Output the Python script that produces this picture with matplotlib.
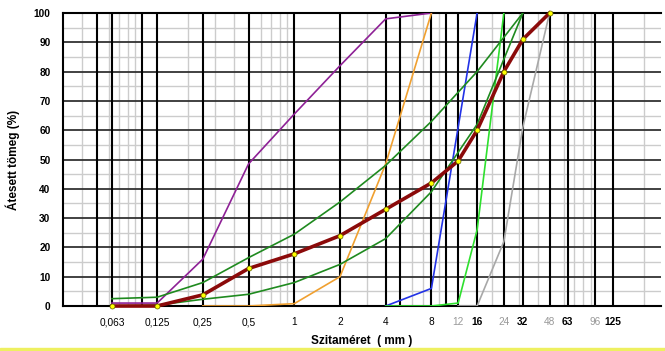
import numpy as np
import matplotlib
matplotlib.use("Agg")
import matplotlib.pyplot as plt
from matplotlib.patches import Rectangle

plt.rcParams['font.family'] = ['Liberation Sans', 'DejaVu Sans']

# Szitasor és tengelyfeliratok
tick_sizes = [0.063, 0.125, 0.25, 0.5, 1, 2, 4, 8, 12, 16, 24, 32, 48, 63, 96, 125]
tick_labels = ['0,063', '0,125', '0,25', '0,5', '1', '2', '4', '8', '12', '16',
               '24', '32', '48', '63', '96', '125']
gray_ticks = ['12', '24', '48', '96']
bold_ticks = ['16', '32', '63', '125']

# Görbék (szemcseméret mm, áthullott %)
purple_x = [0.063, 0.125, 0.25, 0.5, 1, 2, 4, 8]
purple_y = [1, 1, 16, 48.5, 65.5, 82, 98, 100]

orange_x = [0.25, 0.5, 1, 2, 4, 8]
orange_y = [0, 0, 0.8, 10, 48.5, 100]

blue_x = [4, 8, 16]
blue_y = [0, 6, 100]

lgreen_x = [4, 8, 12, 16, 24]
lgreen_y = [0, 0, 1, 26, 100]

gray_x = [12, 16, 24, 32, 48]
gray_y = [0, 0, 22, 61, 100]

upper_x = [0.063, 0.125, 0.25, 0.5, 1, 2, 4, 8, 16, 32]
upper_y = [2.5, 3, 8, 16.5, 24.5, 35.5, 48, 63, 80, 100]

lower_x = [0.063, 0.125, 0.25, 0.5, 1, 2, 4, 8, 16, 32]
lower_y = [0, 0.3, 2.3, 4, 8, 14.2, 23, 39, 62, 100]

mix_x = [0.063, 0.125, 0.25, 0.5, 1, 2, 4, 8, 12, 16, 24, 32, 48]
mix_y = [0, 0, 3.8, 12.8, 17.8, 24, 33, 42, 49.5, 60, 80, 91, 100]

# rácsvonalak
minor_v = [0.04, 0.06, 0.07, 0.08, 0.09, 0.2, 0.3, 0.4, 0.6, 0.7, 0.8, 0.9,
           3, 6, 7, 9, 20, 30, 40, 60, 70, 80, 90, 200]
major_v = [0.05, 0.1, 5, 10]

fig = plt.figure(figsize=(6.65, 3.51), dpi=100)
ax = fig.add_axes([63 / 665, 1 - 306 / 351, 598 / 665, 293 / 351])
ax.set_xscale('log')
ax.set_xlim(0.03, 260)
ax.set_ylim(0, 100)

for v in minor_v:
    ax.axvline(v, color='#cccccc', lw=1.0, zorder=1)
for v in np.arange(5, 100, 10):
    ax.axhline(v, color='#cccccc', lw=1.0, zorder=1)
for v in np.arange(10, 100, 10):
    ax.axhline(v, color='#333333', lw=1.3, zorder=2)
for v in major_v + tick_sizes:
    ax.axvline(v, color='black', lw=1.5, zorder=2)

ax.plot(purple_x, purple_y, color='#8e2196', lw=1.2, zorder=4)
ax.plot(orange_x, orange_y, color='#f0a030', lw=1.2, zorder=4)
ax.plot(blue_x, blue_y, color='#2232e6', lw=1.2, zorder=4)
ax.plot(lgreen_x, lgreen_y, color='#2ee02e', lw=1.2, zorder=4)
ax.plot(gray_x, gray_y, color='#a8a8a8', lw=1.2, zorder=4)
ax.plot(upper_x, upper_y, color='#1f8a1f', lw=1.2, zorder=4)
ax.plot(lower_x, lower_y, color='#1f8a1f', lw=1.2, zorder=4)
ax.plot(mix_x, mix_y, color='#8b0a0a', lw=2.6, zorder=5, clip_on=False,
        marker='o', ms=3.6, mfc='#ffff00', mec='#606000', mew=0.5)

for s in ['left', 'top', 'bottom']:
    ax.spines[s].set_color('black')
    ax.spines[s].set_linewidth(1.5)
ax.spines['right'].set_visible(False)

ax.set_xticks(tick_sizes)
ax.set_xticklabels(tick_labels)
ax.xaxis.set_minor_locator(matplotlib.ticker.NullLocator())
ax.set_yticks(np.arange(0, 101, 10))
ax.tick_params(axis='both', length=0, labelsize=7.3)
ax.tick_params(axis='x', pad=8)
ax.tick_params(axis='y', pad=9)
for lab in ax.get_yticklabels():
    lab.set_fontweight('bold')
for lab in ax.get_xticklabels():
    t = lab.get_text()
    if t in gray_ticks:
        lab.set_color('#999999')
    if t in bold_ticks:
        lab.set_fontweight('bold')

ax.set_xlabel('Szitaméret  ( mm )', fontsize=8.5, fontweight='bold', labelpad=6)
ax.set_ylabel('Átesett tömeg (%)', fontsize=8.5, fontweight='bold', labelpad=10)

fig.patches.append(Rectangle((0, 0), 1, 3.5 / 351, transform=fig.transFigure,
                             color='#eef060', zorder=0))

fig.savefig('out.png', dpi=100)
